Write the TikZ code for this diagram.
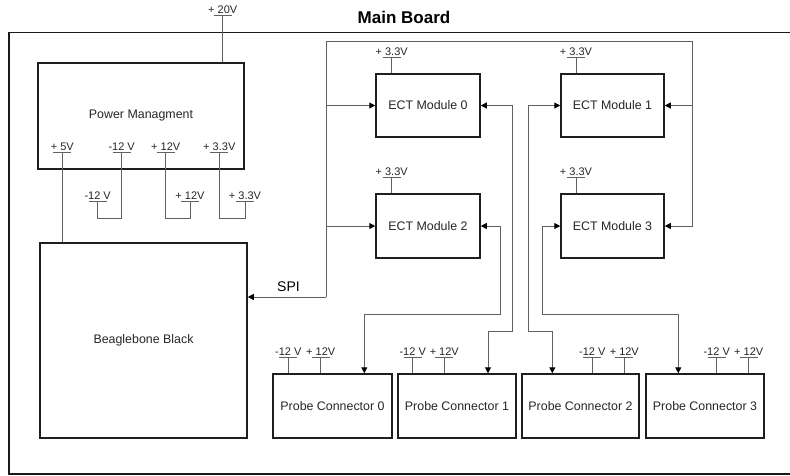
\documentclass[tikz,border=0pt]{standalone}
\usepackage{fontspec}
\setmainfont{Liberation Sans}
\usetikzlibrary{arrows.meta}
\tikzset{
  box/.style={draw=black!88, line width=1.5pt, fill=white, inner sep=0pt,
    font=\fontsize{12.4}{14}\selectfont, text=black!85},
  frame/.style={draw=black!90, line width=1.6pt},
  conn/.style={draw=black!62, line width=1pt},
  arr/.style={-{Triangle[length=6pt,width=6pt,color=black]}},
  darr/.style={{Triangle[length=6pt,width=6pt,color=black]}-{Triangle[length=6pt,width=6pt,color=black]}},
  suptxt/.style={font=\fontsize{11}{13}\selectfont, text=black!85, inner sep=0pt},
}
\newcommand\supplyV[4]{%
  \coordinate (#1) at (#2,#3);
  \node[suptxt, anchor=base] (#1t) at (#2,#3-2) {#4};
  \draw[conn] ([xshift=-9pt]#1) -- ([xshift=9pt]#1);
}
\begin{document}
\begin{tikzpicture}[x=1pt,y=-1pt]
\useasboundingbox (0,0) rectangle (790,475);
\fill[white] (0,0) rectangle (790,475);

% board frame and title
\node[frame, draw, minimum width=789pt, minimum height=441.5pt, inner sep=0pt, anchor=north west] (board) at (8,31.7) {};
\node[font=\fontsize{17}{20}\selectfont\bfseries, inner sep=0pt] (title) at (404,17) {Main Board};

% boxes
\node[box, minimum width=206pt, minimum height=106pt] (pm) at (141,116) {};
\node[font=\fontsize{12.4}{14}\selectfont, text=black!85, inner sep=0pt] (pmlabel) at (141,115.5) {Power Managment};
\node[box, minimum width=207pt, minimum height=195pt] (bbb) at (143.5,340.5) {Beaglebone Black};
\node[box, minimum width=104pt, minimum height=63pt] (ect0) at (428,105.5) {ECT Module 0};
\node[box, minimum width=103pt, minimum height=63pt] (ect1) at (612.5,105.5) {ECT Module 1};
\node[box, minimum width=104pt, minimum height=64pt] (ect2) at (428,226) {ECT Module 2};
\node[box, minimum width=103pt, minimum height=64pt] (ect3) at (612.5,226) {ECT Module 3};
\node[box, minimum width=119pt, minimum height=64pt] (pc0) at (332.5,406) {Probe Connector 0};
\node[box, minimum width=118pt, minimum height=64pt] (pc1) at (457,406) {Probe Connector 1};
\node[box, minimum width=117pt, minimum height=64pt] (pc2) at (580.5,406) {Probe Connector 2};
\node[box, minimum width=118pt, minimum height=64pt] (pc3) at (705,406) {Probe Connector 3};

% supplies
\supplyV{s20}{222.7}{15}{+ 20V}
\draw[conn] (s20) -- (s20 |- pm.north);

\supplyV{pm5}{62.3}{152.7}{+ 5V}
\supplyV{pmn12}{121.7}{152.7}{-12 V}
\supplyV{pmp12}{165.7}{152.7}{+ 12V}
\supplyV{pm33}{219.3}{152.7}{+ 3.3V}
\supplyV{ln12}{97.7}{201.7}{-12 V}
\supplyV{lp12}{190}{201.7}{+ 12V}
\supplyV{l33}{245}{201.7}{+ 3.3V}
\draw[conn] (pm5) -- (pm5 |- bbb.north);
\draw[conn] (pmn12) -- (121.7,218) -- (97.7,218) -- (ln12);
\draw[conn] (pmp12) -- (165.7,218) -- (190,218) -- (lp12);
\draw[conn] (pm33) -- (219.3,218) -- (245,218) -- (l33);

\supplyV{e0s}{391.7}{57.7}{+ 3.3V}
\supplyV{e1s}{576}{57.7}{+ 3.3V}
\supplyV{e2s}{391.7}{177.7}{+ 3.3V}
\supplyV{e3s}{576}{177.7}{+ 3.3V}
\draw[conn] (e0s) -- (e0s |- ect0.north);
\draw[conn] (e1s) -- (e1s |- ect1.north);
\draw[conn] (e2s) -- (e2s |- ect2.north);
\draw[conn] (e3s) -- (e3s |- ect3.north);

\supplyV{p0n}{288.3}{357.3}{-12 V}
\supplyV{p0p}{320.7}{357.3}{+ 12V}
\supplyV{p1n}{412.7}{357.3}{-12 V}
\supplyV{p1p}{444.3}{357.3}{+ 12V}
\supplyV{p2n}{592.3}{357.3}{-12 V}
\supplyV{p2p}{624.3}{357.3}{+ 12V}
\supplyV{p3n}{716.7}{357.3}{-12 V}
\supplyV{p3p}{748.7}{357.3}{+ 12V}
\draw[conn] (p0n) -- (p0n |- pc0.north);
\draw[conn] (p0p) -- (p0p |- pc0.north);
\draw[conn] (p1n) -- (p1n |- pc1.north);
\draw[conn] (p1p) -- (p1p |- pc1.north);
\draw[conn] (p2n) -- (p2n |- pc2.north);
\draw[conn] (p2p) -- (p2p |- pc2.north);
\draw[conn] (p3n) -- (p3n |- pc3.north);
\draw[conn] (p3p) -- (p3p |- pc3.north);

% SPI bus
\coordinate (spi) at (326,297);
\coordinate (busL) at (326,41.3);
\coordinate (busR) at (692,41.3);
\draw[conn, arr] (spi) -- (busL) -- (busR) -- (busR |- ect3.east) -- (ect3.east);
\draw[conn, arr] (spi) -- (spi -| bbb.east);
\node[font=\fontsize{14}{16}\selectfont, inner sep=0pt] (spilabel) at (288.5,287) {SPI};
\draw[conn, arr] (busL |- ect0.west) -- (ect0.west);
\draw[conn, arr] (busL |- ect2.west) -- (ect2.west);
\draw[conn, arr] (busR |- ect1.east) -- (ect1.east);

% module to probe connector links
\coordinate (k0) at (512,331.7);
\coordinate (k0b) at (488,331.7);
\draw[conn, darr] (ect0.east) -- (k0 |- ect0.east) -- (k0) -- (k0b) -- (k0b |- pc1.north);
\coordinate (k2) at (500,314.3);
\coordinate (k2b) at (364.3,314.3);
\draw[conn, darr] (ect2.east) -- (k2 |- ect2.east) -- (k2) -- (k2b) -- (k2b |- pc0.north);
\coordinate (k1) at (528,331.7);
\coordinate (k1b) at (552.3,331.7);
\draw[conn, darr] (ect1.west) -- (k1 |- ect1.west) -- (k1) -- (k1b) -- (k1b |- pc2.north);
\coordinate (k3) at (542.3,314.3);
\coordinate (k3b) at (678.3,314.3);
\draw[conn, darr] (ect3.west) -- (k3 |- ect3.west) -- (k3) -- (k3b) -- (k3b |- pc3.north);
\end{tikzpicture}
\end{document}
